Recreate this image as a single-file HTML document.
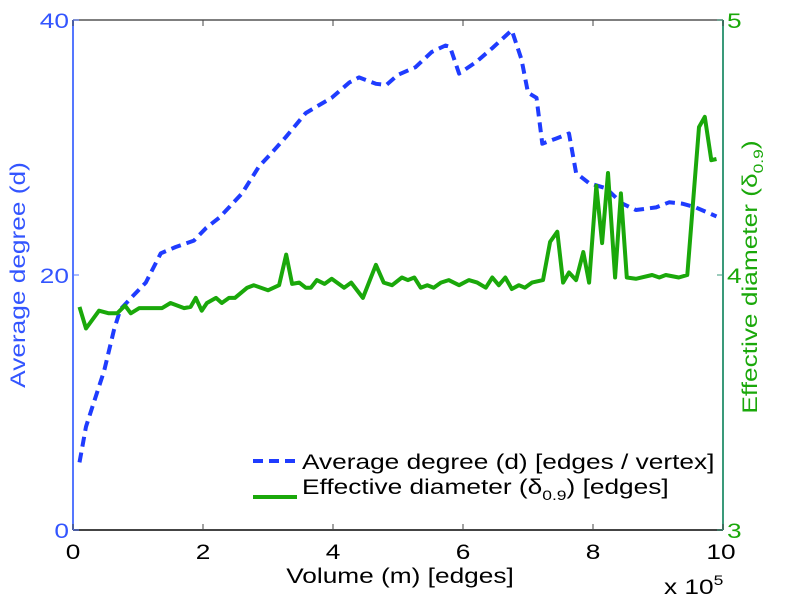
<!DOCTYPE html>
<html><head><meta charset="utf-8">
<style>
body{margin:0;background:#fff;}
svg{display:block;font-family:"Liberation Sans",sans-serif;}
</style></head>
<body>
<svg id="chart" width="785" height="600" viewBox="0 0 785 600">
<g id="axes"></g>
<g id="series"></g>
<g id="legend">
  <line x1="253" y1="461" x2="297" y2="461" stroke="#1f3cff" stroke-width="4" stroke-dasharray="10,6"/>
  <text transform="translate(302,469) scale(1.25,1)" font-size="21" fill="#000">Average degree (d) [edges / vertex]</text>
  <line x1="253" y1="497" x2="297" y2="497" stroke="#1aa80a" stroke-width="4"/>
  <text transform="translate(302,494) scale(1.25,1)" font-size="21" fill="#000">Effective diameter (δ<tspan font-size="14" dy="6">0.9</tspan><tspan dy="-6">) [edges]</tspan></text>
</g>
<text transform="translate(400,583) scale(1.25,1)" font-size="21" text-anchor="middle" fill="#000">Volume (m) [edges]</text>
<text transform="translate(664,594) scale(1.25,1)" font-size="21" fill="#000">x 10<tspan font-size="14" dy="-9">5</tspan></text>
<text transform="translate(25,275) rotate(-90) scale(1.25,1)" font-size="21" text-anchor="middle" fill="#3355ff">Average degree (d)</text>
<text transform="translate(757,277) rotate(-90) scale(1.25,1)" font-size="21" text-anchor="middle" fill="#1aa80a">Effective diameter (δ<tspan font-size="14" dy="6">0.9</tspan><tspan dy="-6">)</tspan></text>
</svg>
<script>
const xTicks = [0, 2, 4, 6, 8, 10];
const leftTicks = [0, 20, 40];
const rightTicks = [3, 4, 5];
const degX = [0.1,0.2,0.32,0.48,0.63,0.73,0.91,1.12,1.35,1.58,1.86,2.05,2.25,2.4,2.6,2.86,3.06,3.27,3.58,3.78,3.98,4.25,4.4,4.66,4.82,5.0,5.27,5.52,5.73,5.8,5.94,6.2,6.45,6.75,6.9,7.0,7.13,7.22,7.43,7.63,7.74,7.94,8.2,8.45,8.66,8.97,9.17,9.37,9.58,9.9];
const degY = [5.3,8.1,10,12.5,15.7,17.3,18.3,19.4,21.7,22.2,22.7,23.7,24.5,25.3,26.4,28.5,29.6,30.8,32.7,33.3,33.9,35.1,35.5,35.0,34.9,35.7,36.3,37.5,38,37.9,35.8,36.7,37.8,39.2,36.9,34.3,33.9,30.3,30.7,31.1,28,27.2,26.8,25.6,25.1,25.3,25.7,25.6,25.3,24.6];
const diaX = [0.1,0.2,0.4,0.55,0.68,0.8,0.89,1.02,1.22,1.37,1.5,1.71,1.81,1.89,1.98,2.06,2.2,2.29,2.4,2.49,2.68,2.78,3.0,3.17,3.28,3.37,3.48,3.58,3.66,3.75,3.87,3.98,4.17,4.28,4.46,4.66,4.78,4.91,5.06,5.15,5.25,5.35,5.45,5.55,5.66,5.78,5.94,6.09,6.22,6.35,6.45,6.55,6.65,6.75,6.86,6.95,7.06,7.23,7.34,7.45,7.54,7.63,7.74,7.85,7.94,8.05,8.14,8.23,8.34,8.43,8.52,8.66,8.91,9.02,9.12,9.32,9.45,9.63,9.72,9.82,9.9];
const diaY = [3.875,3.79,3.86,3.85,3.85,3.88,3.85,3.87,3.87,3.87,3.89,3.87,3.875,3.91,3.86,3.89,3.91,3.89,3.91,3.91,3.95,3.96,3.94,3.96,4.08,3.965,3.97,3.95,3.95,3.98,3.965,3.985,3.95,3.97,3.91,4.04,3.97,3.96,3.99,3.98,3.99,3.95,3.96,3.95,3.97,3.98,3.96,3.98,3.97,3.95,3.99,3.96,3.99,3.945,3.96,3.95,3.97,3.98,4.13,4.17,3.97,4.01,3.98,4.09,3.97,4.35,4.125,4.40,3.99,4.32,3.99,3.985,4.0,3.99,4.0,3.99,4.0,4.58,4.62,4.45,4.455];

const X0=73, X1=723, YT=20, YB=530;
const sx = v => X0 + (v-0)/(10-0)*(X1-X0);
const syL = v => YB - (v-0)/(40-0)*(YB-YT);
const syR = v => YB - (v-3)/(5-3)*(YB-YT);
const NS='http://www.w3.org/2000/svg';
function mk(tag, attrs, parent){const e=document.createElementNS(NS,tag);for(const k in attrs)e.setAttribute(k,attrs[k]);parent.appendChild(e);return e;}
const axes=document.getElementById('axes');
const series=document.getElementById('series');

let el;
el=mk('line',{x1:X0,y1:YT,x2:X1,y2:YT,stroke:'#555','stroke-width':1.5},axes);


el=mk('line',{x1:X0,y1:YB,x2:X1,y2:YB,stroke:'#444','stroke-width':2},axes);


el=mk('line',{x1:X0,y1:YT,x2:X0,y2:YB,stroke:'#5577ff','stroke-width':2},axes);


el=mk('line',{x1:X1,y1:YT,x2:X1,y2:YB,stroke:'#3a9a7a','stroke-width':2},axes);



xTicks.forEach(t=>{
  const x=sx(t);
  let a=mk('line',{x1:x,y1:YB,x2:x,y2:YB-6,stroke:'#444','stroke-width':1},axes);
  
  
  a=mk('line',{x1:x,y1:YT,x2:x,y2:YT+6,stroke:'#444','stroke-width':1},axes);
  
  
  const tx=mk('text',{transform:'translate('+(t===10?x-2:x)+',559) scale(1.25,1)','font-size':21,'text-anchor':'middle',fill:'#000'},axes);
  tx.textContent=t;
  
  
});
leftTicks.forEach(t=>{
  const y=syL(t);
  let a=mk('line',{x1:X0,y1:y,x2:X0+6,y2:y,stroke:'#5577ff','stroke-width':1},axes);
  
  
  const tx=mk('text',{transform:'translate('+(X0-4)+','+(y+8)+') scale(1.25,1)','font-size':21,'text-anchor':'end',fill:'#3355ff'},axes);
  tx.textContent=t;
  
  
});
rightTicks.forEach(t=>{
  const y=syR(t);
  let a=mk('line',{x1:X1,y1:y,x2:X1-6,y2:y,stroke:'#3a9a7a','stroke-width':1},axes);
  
  
  const tx=mk('text',{transform:'translate('+(X1+4)+','+(y+8)+') scale(1.25,1)','font-size':21,'text-anchor':'start',fill:'#1aa80a'},axes);
  tx.textContent=t;
  
  
});

const dPts=degX.map((x,i)=>sx(x).toFixed(1)+','+syL(degY[i]).toFixed(1)).join(' ');
el=mk('polyline',{points:dPts,fill:'none',stroke:'#1f3cff','stroke-width':4,'stroke-dasharray':'10,6','stroke-linejoin':'round'},series);


const gPts=diaX.map((x,i)=>sx(x).toFixed(1)+','+syR(diaY[i]).toFixed(1)).join(' ');
el=mk('polyline',{points:gPts,fill:'none',stroke:'#1aa80a','stroke-width':4,'stroke-linejoin':'round'},series);


</script>
</body></html>
